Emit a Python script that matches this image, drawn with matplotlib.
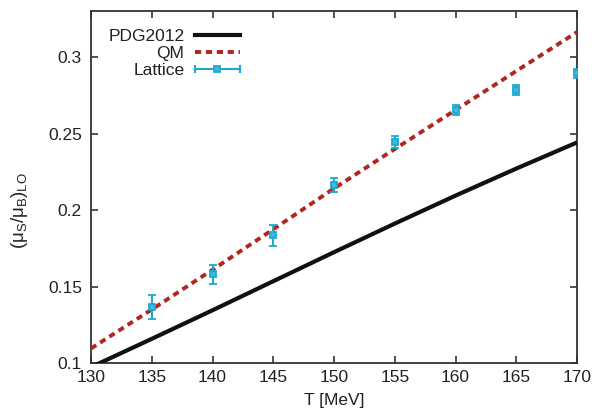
import numpy as np
import matplotlib
matplotlib.use("Agg")
import matplotlib.pyplot as plt
from matplotlib.lines import Line2D
from matplotlib.legend_handler import HandlerLine2D
from matplotlib.ticker import FuncFormatter

plt.rcParams['font.family'] = ['Liberation Sans', 'DejaVu Sans']
plt.rcParams['mathtext.fontset'] = 'custom'
plt.rcParams['mathtext.rm'] = 'Liberation Sans'
plt.rcParams['mathtext.it'] = 'Liberation Sans'
plt.rcParams['mathtext.bf'] = 'Liberation Sans:bold'

# model curves
T_curve = [130, 135, 140, 145, 150, 155, 160, 165, 170]
pdg2012 = [0.0973, 0.1158, 0.1345, 0.1535, 0.1725, 0.1912, 0.2095, 0.2272, 0.2443]
qm = [0.1095, 0.1350, 0.1610, 0.1875, 0.2142, 0.2400, 0.2655, 0.2910, 0.3165]

# lattice data
T_lat = [135, 140, 145, 150, 155, 160, 165, 170]
lat = [0.1366, 0.1580, 0.1836, 0.2163, 0.2447, 0.2655, 0.2786, 0.2895]
lat_err = [0.0078, 0.0060, 0.0068, 0.0045, 0.0041, 0.0033, 0.0030, 0.0030]

black = '#111111'
red = '#b3261e'
cyan = '#1ea9cf'
fill = '#3fb8da'
fs = 12.5

fig = plt.figure(figsize=(5.95, 4.15), dpi=100)
ax = fig.add_axes([91/595, 1-363/415, 486/595, 352/415])

ax.plot(T_curve, pdg2012, color=black, lw=3.0, solid_capstyle='butt', zorder=3)
ax.plot(T_curve, qm, color=red, lw=2.8, ls=(0, (1.6, 1.2)), zorder=3)
ax.errorbar(T_lat, lat, yerr=lat_err, fmt='s', color=cyan, ms=4.2,
            mfc=fill, mec=cyan, mew=1.3, elinewidth=1.5, capsize=3,
            capthick=1.5, zorder=4)

ax.set_xlim(130, 170)
ax.set_ylim(0.1, 0.3303)
ax.set_xticks(np.arange(130, 171, 5))
ax.set_yticks([0.1, 0.15, 0.2, 0.25, 0.3])
ax.yaxis.set_major_formatter(FuncFormatter(lambda v, p: '%g' % round(v, 3)))
ax.tick_params(direction='in', length=5, width=1.1, top=True, right=True,
               labelsize=fs, colors='#222222', pad=5)
ax.tick_params(axis='y', pad=6.5)
for s in ax.spines.values():
    s.set_linewidth(1.3)
    s.set_color('#333333')

ax.set_xlabel('T [MeV]', fontsize=fs, color='#222222', labelpad=6)
ax.set_ylabel(r'$(\mu_S/\mu_B)_{LO}$', fontsize=fs + 1, color='#222222')
ax.yaxis.set_label_coords(-0.125, 0.432)

# legend entries: text on the left, sample on the right
h_pdg = Line2D([], [], color=black, lw=3.0)
h_qm = Line2D([], [], color=red, lw=2.8, ls=(0, (1.6, 1.2)))
h_bar = Line2D([], [], color=cyan, lw=1.5, marker='|', ms=6, mew=1.5)
h_sq = Line2D([], [], ls='none', marker='s', color=cyan, ms=4.2,
              mfc=fill, mec=cyan, mew=1.3)
leg = fig.legend([h_pdg, h_qm, (h_bar, h_sq)], ['PDG2012', 'QM', 'Lattice'],
                 loc='upper right', bbox_to_anchor=(240/595, 1-29/415),
                 bbox_transform=fig.transFigure, frameon=False,
                 markerfirst=False, fontsize=fs, handlelength=2.6,
                 handletextpad=0.6, labelspacing=0.1, borderpad=0,
                 borderaxespad=0,
                 handler_map={h_bar: HandlerLine2D(numpoints=2, marker_pad=0),
                              h_sq: HandlerLine2D(numpoints=1)})
for t in leg.get_texts():
    t.set_color('#222222')

fig.savefig('out.png', dpi=100)
